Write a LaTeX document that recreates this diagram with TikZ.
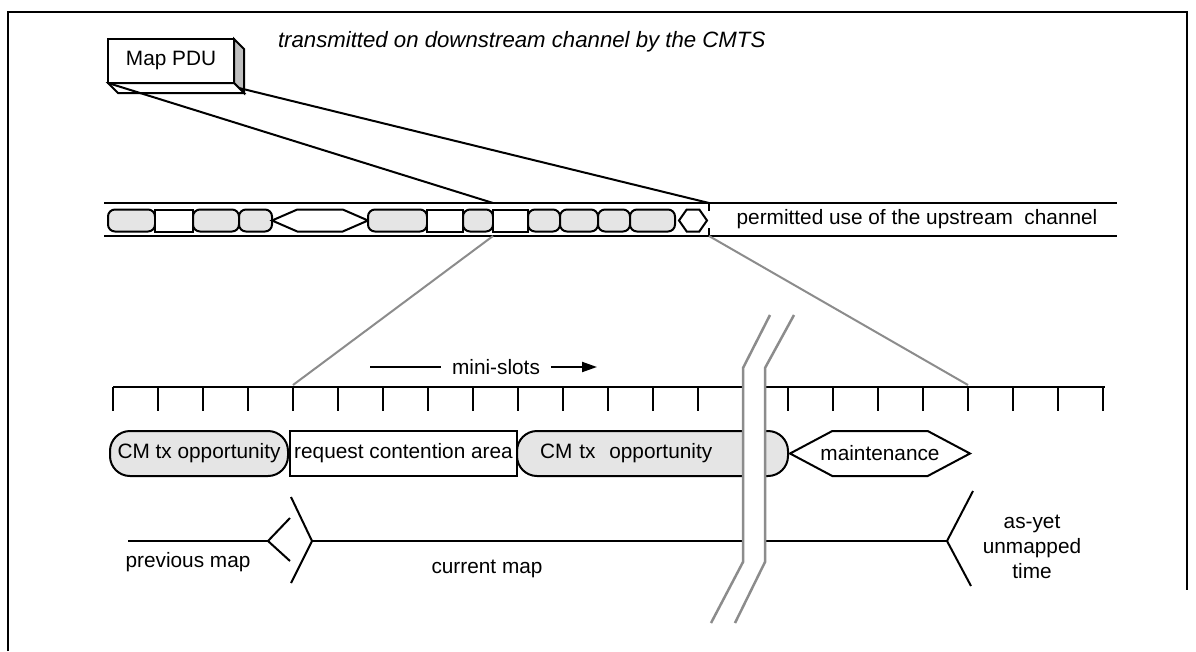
\documentclass[tikz,border=0pt]{standalone}
\usepackage{fontspec}
\setmainfont{Liberation Sans}
\usetikzlibrary{arrows.meta,positioning,calc,shapes.symbols}

\newcommand{\figfont}{\fontsize{20.8}{25}\selectfont}

\begin{document}
\begin{tikzpicture}[
  x=1pt, y=-1pt,
  line width=2pt,
  every node/.style={font=\figfont},
  frame/.style={line width=2.5pt},
  pdu/.style={draw, fill=white, minimum width=126pt, minimum height=44pt,
              inner sep=0pt, outer sep=0pt},
  slot/.style={draw, minimum height=22pt, inner sep=0pt, outer sep=0pt},
  gslot/.style={slot, fill=black!10, rounded corners=7pt},
  wslot/.style={slot, fill=white},
  hslot/.style={slot, fill=white, signal, signal to=west and east},
  bigslot/.style={draw, minimum height=45pt, inner ysep=0pt, inner xsep=1pt,
                  outer sep=0pt},
  capslot/.style={bigslot, fill=black!10, rounded corners=20pt},
  rectslot/.style={bigslot, fill=white},
  hexslot/.style={bigslot, fill=white, signal, signal to=west and east},
  zoomline/.style={black!45},
  breakline/.style={black!45, line width=2.5pt},
  lbl/.style={inner sep=0pt, align=center},
  fwd/.style={-{Triangle[length=15pt,width=10pt]}},
]
\useasboundingbox (0,0) rectangle (1196,651);

%% ---- frame ---------------------------------------------------------------
\draw[frame] (8,651) -- (8,12) -- (1187,12) -- (1187,590);

%% ---- the map pdu ---------------------------------------------------------
\node[pdu] (pdu) at (171,61) {Map PDU};
\draw[fill=black!25] (pdu.north east) -- ++(10,10) -- ++(0,44) -- (pdu.south east) -- cycle;
\draw[fill=white] (pdu.south west) -- ++(10,10) -- ++(126,0) -- (pdu.south east) -- cycle;
\node[lbl, anchor=west, font=\fontsize{22.2}{26}\selectfont\itshape] (down) at (277,42)
  {transmitted on downstream channel by the CMTS};

%% ---- upstream channel ----------------------------------------------------
\coordinate (chTL) at (104,203);
\coordinate (chTR) at (1117,203);
\coordinate (chBL) at (104,236);
\coordinate (chBR) at (1117,236);
\draw (chTL) -- (chTR);
\draw (chBL) -- (chBR);

\node[gslot, minimum width=47pt] (s1) at (131.5,220.5) {};
\node[wslot, minimum width=38pt, right=0pt of s1] (s2) {};
\node[gslot, minimum width=46pt, right=0pt of s2] (s3) {};
\node[gslot, minimum width=33pt, right=0pt of s3] (s4) {};
\node[hslot, minimum width=96pt, signal pointer angle=47, right=0pt of s4] (s5) {};
\node[gslot, minimum width=59pt, right=0pt of s5] (s6) {};
\node[wslot, minimum width=36pt, right=0pt of s6] (s7) {};
\node[gslot, minimum width=30pt, right=0pt of s7] (s8) {};
\node[wslot, minimum width=35pt, right=0pt of s8] (s9) {};
\node[gslot, minimum width=32pt, right=0pt of s9] (s10) {};
\node[gslot, minimum width=38pt, right=0pt of s10] (s11) {};
\node[gslot, minimum width=32pt, right=0pt of s11] (s12) {};
\node[gslot, minimum width=45pt, right=0pt of s12] (s13) {};
\node[hslot, minimum width=28pt, signal pointer angle=110, right=4pt of s13] (s14) {};

\coordinate (mapEnd) at (709,203);
\coordinate (mapEndB) at (709,236);
\draw (mapEnd) -- ++(0,8);
\draw (mapEndB) -- ++(0,-8);

\node[lbl] (use) at (917,219) {permitted use of the upstream\ \ channel};

%% ---- pdu describes this stretch ------------------------------------------
\draw (pdu.south west) -- (s9.north west |- chTL);
\draw ($(pdu.south east)+(5,5)$) -- (mapEnd);

%% ---- mini-slot timeline --------------------------------------------------
\coordinate (tlL) at (113,387);
\coordinate (tlR) at (1105,387);
\draw (tlL) -- (tlR);
\foreach \k in {0,...,22}
  \draw ($(tlL)+(45*\k,0)$) -- ++(0,24);
\coordinate (tickA) at ($(tlL)+(180,-2)$);
\coordinate (tickB) at ($(tlL)+(855,-2)$);
\draw[zoomline] (s9.south west |- chBL) -- (tickA);
\draw[zoomline] (mapEndB) -- (tickB);

\node[lbl, inner xsep=10pt] (ms) at (496,367) {mini-slots};
\coordinate (msL) at (370,367);
\coordinate (msR) at (597,367);
\draw (msL) -- (ms.west);
\draw[fwd] (ms.east) -- (msR);

%% ---- allocations in the current map --------------------------------------
\node[capslot, minimum width=178pt] (cm1) at (199,453.5) {CM tx opportunity};
\node[rectslot, minimum width=227pt, right=2pt of cm1] (rca) {request contention area};
\node[capslot, text width=225pt, align=left, inner xsep=23pt, right=0pt of rca] (cm2)
  {CM tx\ \ opportunity};
\node[hexslot, inner xsep=-12.5pt, minimum width=180pt, signal pointer angle=56,
      right=2pt of cm2] (maint) {maintenance};

%% ---- map boundaries ------------------------------------------------------
\coordinate (prevL) at (128,541);
\coordinate (prevTip) at (268,541);
\coordinate (curTip) at (312,541);
\coordinate (nextTip) at (947,541);
\draw (prevL) -- (prevTip);
\draw ($(prevTip)+(22,-23)$) -- (prevTip) -- ++(22,20);
\draw ($(curTip)+(-21,-44)$) -- (curTip) -- ++(-21,42);
\draw (curTip) -- (nextTip);
\draw ($(nextTip)+(26,-50)$) -- (nextTip) -- ++(24,45);

\node[lbl] (prev) at (188,562) {previous map};
\node[lbl] (cur) at (487,569) {current map};
\node[lbl] (later) at (1032,547) {as-yet\\unmapped\\time};

%% ---- time break ----------------------------------------------------------
\fill[white] (770,315) -- (743,368) -- (743,562) -- (711,623)
  -- (735,623) -- (765,562) -- (765,368) -- (794,315) -- cycle;
\draw[breakline] (770,315) -- (743,368) -- (743,562) -- (711,623);
\draw[breakline] (794,315) -- (765,368) -- (765,562) -- (735,623);

\end{tikzpicture}
\end{document}
